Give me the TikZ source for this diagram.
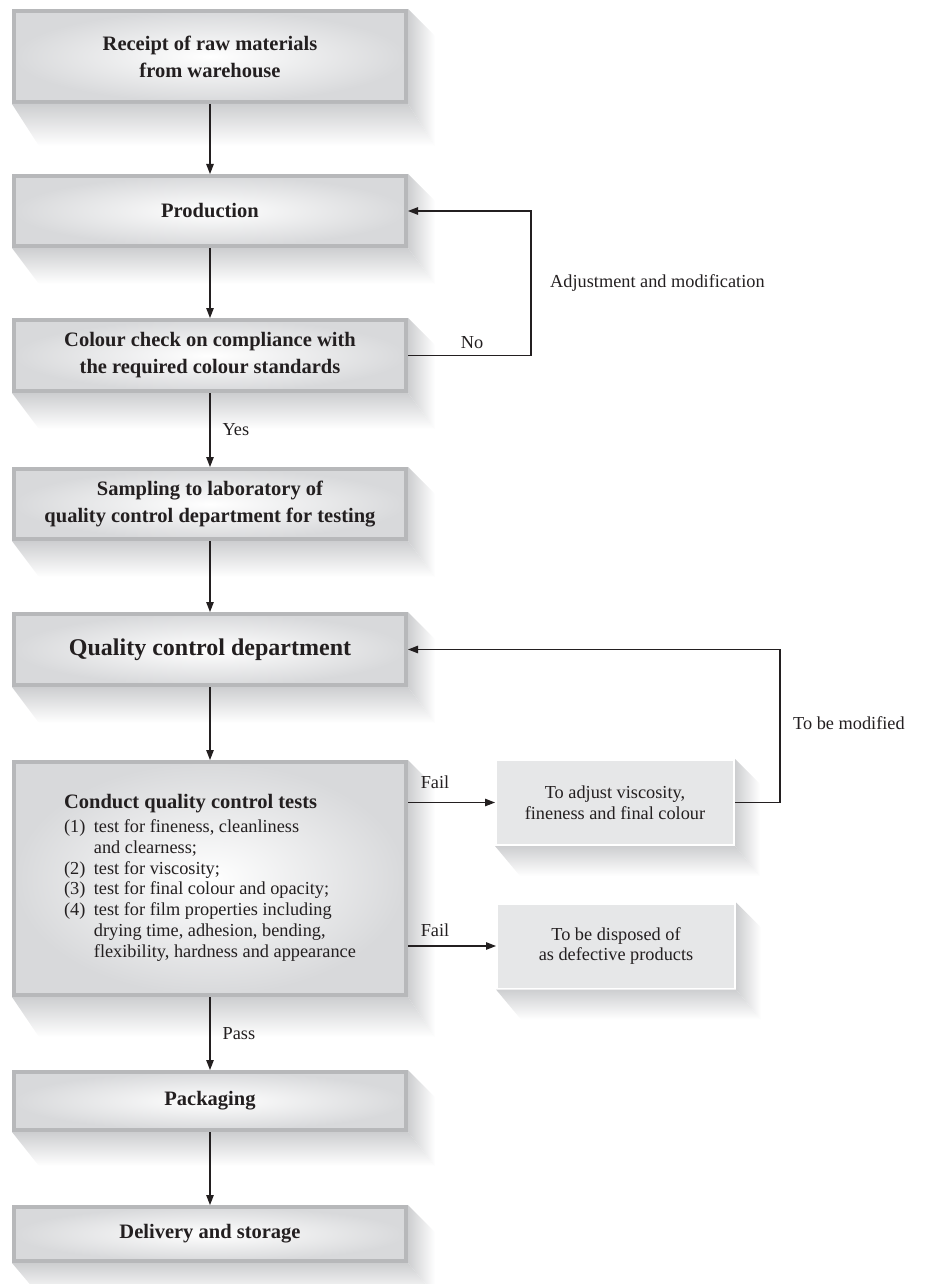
\documentclass[tikz,border=0pt]{standalone}
\usepackage{fontspec}
\setmainfont{Liberation Serif}
\usetikzlibrary{arrows.meta,calc}

\definecolor{rimgray}{HTML}{B7B8BA}
\definecolor{edgegray}{HTML}{D8D9DB}
\definecolor{shadowgray}{HTML}{CDCED0}
\definecolor{sidefill}{HTML}{E6E7E8}
\definecolor{ink}{HTML}{231F20}

\tikzset{
  mainbox/.style={rectangle, draw=rimgray, line width=4pt,
    inner color=white, outer color=edgegray,
    minimum width=392pt, inner sep=0pt, align=center, text=ink,
    font=\fontsize{20.5}{27}\selectfont\bfseries},
  sidebox/.style={rectangle, draw=white, line width=2pt, fill=sidefill,
    minimum width=238pt, minimum height=85pt, inner sep=0pt,
    align=center, text=ink, font=\fontsize{18.3}{20.5}\selectfont},
  flow/.style={draw=ink, line width=1.2pt, -{Triangle[length=10pt,width=7.5pt]}},
  tag/.style={text=ink, inner sep=0pt, font=\fontsize{18.3}{21}\selectfont},
}

% slanted drop shadow: a strip below the box and a strip to its right
\newcommand{\castshadow}[3]{%
  \shade[top color=shadowgray, bottom color=white]
    (#1.south west) -- ++(#2,#3) -- ($(#1.south east)+(#2,#3)$)
    -- (#1.south east) -- cycle;
  \shade[left color=shadowgray, right color=white]
    (#1.north east) -- ++(#2,#2) -- ($(#1.south east)+(#2,#3)$)
    -- (#1.south east) -- cycle;
}

\begin{document}
\begin{tikzpicture}[x=1pt,y=-1pt]
\useasboundingbox (0,0) rectangle (927,1284);

% main process column
\node[mainbox, minimum height=91pt] (receipt) at (210,56.5)
  {Receipt of raw materials\\from warehouse};
\node[mainbox, minimum height=70pt] (production) at (210,211) {Production};
\node[mainbox, minimum height=71pt] (colour) at (210,355.5)
  {Colour check on compliance with\\the required colour standards};
\node[mainbox, minimum height=70pt] (sampling) at (210,504)
  {Sampling to laboratory of\\quality control department for testing};
\node[mainbox, minimum height=71pt, font=\fontsize{24}{28}\selectfont\bfseries]
  (qcd) at (210,649.5) {Quality control department};
\node[mainbox, minimum height=233pt, font=\fontsize{18.3}{20.7}\selectfont]
  (tests) at (210,878.5)
  {\begin{tabular}{@{}l@{\hspace{8.5pt}}l@{}}
   \multicolumn{2}{@{}l@{}}{\fontsize{20.5}{24}\selectfont\bfseries Conduct quality control tests}\\[4pt]
   (1) & test for fineness, cleanliness\\
       & and clearness;\\
   (2) & test for viscosity;\\
   (3) & test for final colour and opacity;\\
   (4) & test for film properties including\\
       & drying time, adhesion, bending,\\
       & flexibility, hardness and appearance
   \end{tabular}};
\node[mainbox, minimum height=58pt] (packaging) at (210,1101) {Packaging};
\node[mainbox, minimum height=54pt] (delivery) at (210,1234) {Delivery and storage};

% side outcomes of the tests
\node[sidebox] (adjust) at (615,802.5) {To adjust viscosity,\\fineness and final colour};
\node[sidebox] (dispose) at (616,946) {To be disposed of\\as defective products};

% shadows
\castshadow{receipt}{27}{42}
\castshadow{production}{27}{36}
\castshadow{colour}{27}{36}
\castshadow{sampling}{27}{36}
\castshadow{qcd}{27}{36}
\castshadow{tests}{27}{40}
\castshadow{packaging}{27}{34}
\castshadow{delivery}{27}{32}
\castshadow{adjust}{25}{30}
\castshadow{dispose}{25}{30}

% connectors
\draw[flow] (receipt.south) -- (production.north);
\draw[flow] (production.south) -- (colour.north);
\draw[flow] (colour.east) -- ++(123,0) |- (production.east);
\draw[flow] (colour.south) -- node[tag, right=12pt] {Yes} (sampling.north);
\draw[flow] (sampling.south) -- (qcd.north);
\draw[flow] (qcd.south) -- (tests.north);
\draw[flow] (tests.east |- adjust.west) -- (adjust.west);
\draw[flow] (tests.east |- dispose.west) -- (dispose.west);
\draw[flow] (adjust.east) -- ++(45,0) |- (qcd.east);
\draw[flow] (tests.south) -- node[tag, right=12pt] {Pass} (packaging.north);
\draw[flow] (packaging.south) -- (delivery.north);

% connector labels
\node[tag] (nolbl) at (472,343) {No};
\node[tag, anchor=west] (adjlbl) at (550,283) {Adjustment and modification};
\node[tag, anchor=west] (modlbl) at (793,723) {To be modified};
\node[tag] (fail1) at (435,782) {Fail};
\node[tag] (fail2) at (435,930) {Fail};
\end{tikzpicture}
\end{document}
